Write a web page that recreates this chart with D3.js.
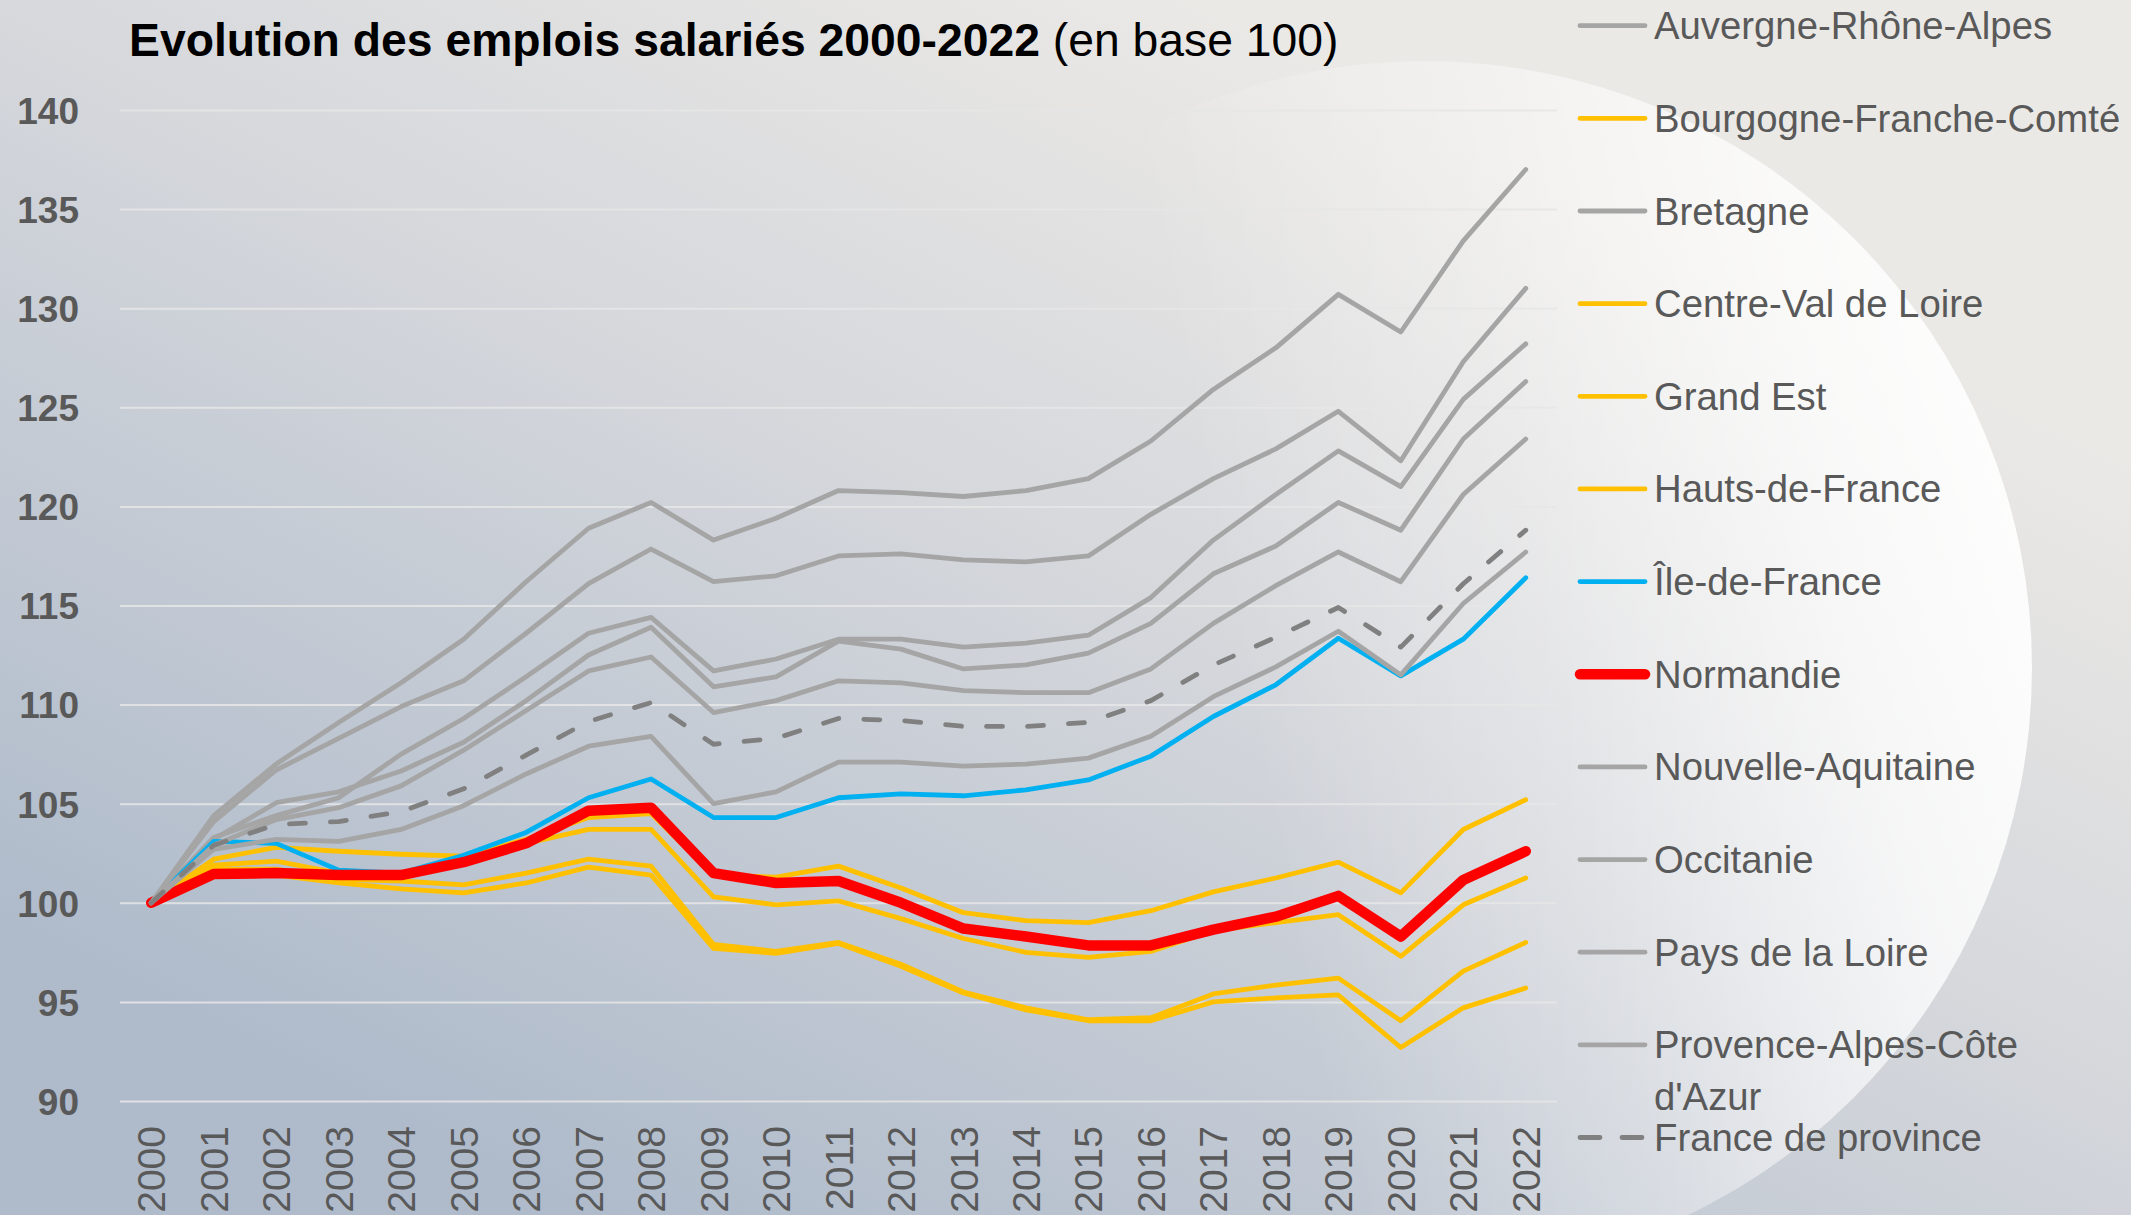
<!DOCTYPE html>
<html>
<head>
<meta charset="utf-8">
<script src="https://cdn.jsdelivr.net/npm/d3@7/dist/d3.min.js"></script>
<style>
  body { margin: 0; background: #d6d8dc; }
  svg { display: block; font-family: "Liberation Sans", Arial, sans-serif; }
</style>
</head>
<body>
<svg id="chart" width="2131" height="1215"></svg>
<script>
// Categories (x axis) and y ticks
const years = ['2000', '2001', '2002', '2003', '2004', '2005', '2006', '2007', '2008', '2009', '2010', '2011',
    '2012', '2013', '2014', '2015', '2016', '2017', '2018', '2019', '2020', '2021', '2022'];
const yTicks = [90, 95, 100, 105, 110, 115, 120, 125, 130, 135, 140];

// Series values, base 100 in 2000
const auvergneRhoneAlpes = [100, 103.3, 104.4, 105.3, 107.5, 109.3, 111.4, 113.6, 114.4, 111.7, 112.3, 113.3,
    113.3, 112.9, 113.1, 113.5, 115.4, 118.3, 120.6, 122.8, 121.0, 125.4, 128.2];
const bourgogneFrancheComte = [100, 101.7, 101.7, 101.2, 101.1, 100.9, 101.5, 102.2, 101.85, 97.9, 97.55, 98.0,
    96.9, 95.5, 94.7, 94.1, 94.2, 95.4, 95.85, 96.2, 94.05, 96.55, 98.0];
const bretagne = [100, 103.2, 105.05, 105.6, 106.65, 108.1, 110.2, 112.5, 113.9, 110.9, 111.4, 113.2,
    112.8, 111.8, 112.0, 112.6, 114.1, 116.6, 118.0, 120.2, 118.8, 123.4, 126.3];
const centreValDeLoire = [100, 101.9, 102.1, 101.5, 101.4, 102.0, 103.0, 103.7, 103.7, 100.3, 99.9, 100.1,
    99.2, 98.2, 97.5, 97.25, 97.55, 98.6, 99.0, 99.4, 97.3, 99.9, 101.25];
const grandEst = [100, 101.5, 101.4, 101.0, 100.7, 100.5, 101.0, 101.8, 101.4, 97.7, 97.45, 97.95,
    96.8, 95.45, 94.6, 94.05, 94.05, 95.0, 95.2, 95.35, 92.7, 94.7, 95.7];
const hautsDeFrance = [100, 102.2, 102.8, 102.6, 102.45, 102.35, 103.2, 104.3, 104.5, 101.4, 101.3, 101.85,
    100.75, 99.5, 99.1, 99.0, 99.6, 100.55, 101.25, 102.05, 100.5, 103.7, 105.2];
const ileDeFrance = [100, 103.1, 103.0, 101.65, 101.5, 102.4, 103.55, 105.3, 106.25, 104.3, 104.3, 105.3,
    105.5, 105.4, 105.7, 106.2, 107.4, 109.4, 111.0, 113.35, 111.45, 113.3, 116.4];
const normandie = [100, 101.45, 101.5, 101.4, 101.4, 102.05, 103.0, 104.65, 104.8, 101.5, 101.0, 101.1,
    100.0, 98.7, 98.3, 97.85, 97.85, 98.65, 99.3, 100.35, 98.3, 101.15, 102.6];
const nouvelleAquitaine = [100, 102.9, 104.2, 104.8, 105.9, 107.7, 109.7, 111.7, 112.4, 109.6, 110.2, 111.2,
    111.1, 110.7, 110.6, 110.6, 111.8, 114.1, 116.0, 117.7, 116.2, 120.6, 123.4];
const occitanie = [100, 104.4, 107.0, 109.1, 111.1, 113.3, 116.2, 118.9, 120.2, 118.3, 119.4, 120.8,
    120.7, 120.5, 120.8, 121.4, 123.3, 125.9, 128.0, 130.7, 128.8, 133.4, 137.0];
const paysDeLaLoire = [100, 104.1, 106.7, 108.3, 109.9, 111.2, 113.6, 116.1, 117.85, 116.2, 116.5, 117.5,
    117.6, 117.3, 117.2, 117.5, 119.6, 121.4, 122.9, 124.8, 122.3, 127.3, 131.0];
const provenceAlpesCoteAzur = [100, 102.7, 103.2, 103.1, 103.7, 104.9, 106.5, 107.9, 108.4, 105.0, 105.6, 107.1,
    107.1, 106.9, 107.0, 107.3, 108.4, 110.4, 111.9, 113.7, 111.5, 115.1, 117.7];
const franceDeProvince = [100, 102.9, 103.95, 104.1, 104.6, 105.75, 107.45, 109.15, 110.1, 108.0, 108.3, 109.3,
    109.2, 108.9, 108.9, 109.1, 110.2, 112.0, 113.4, 114.9, 112.9, 116.1, 118.8];

// legend order = drawing order
const series = [
    { name: 'Auvergne-Rhône-Alpes', values: auvergneRhoneAlpes, kind: 'grey' },
    { name: 'Bourgogne-Franche-Comté', values: bourgogneFrancheComte, kind: 'yellow' },
    { name: 'Bretagne', values: bretagne, kind: 'grey' },
    { name: 'Centre-Val de Loire', values: centreValDeLoire, kind: 'yellow' },
    { name: 'Grand Est', values: grandEst, kind: 'yellow' },
    { name: 'Hauts-de-France', values: hautsDeFrance, kind: 'yellow' },
    { name: 'Île-de-France', values: ileDeFrance, kind: 'blue' },
    { name: 'Normandie', values: normandie, kind: 'red' },
    { name: 'Nouvelle-Aquitaine', values: nouvelleAquitaine, kind: 'grey' },
    { name: 'Occitanie', values: occitanie, kind: 'grey' },
    { name: 'Pays de la Loire', values: paysDeLaLoire, kind: 'grey' },
    { name: "Provence-Alpes-Côte d'Azur", values: provenceAlpesCoteAzur, kind: 'grey' },
    { name: 'France de province', values: franceDeProvince, kind: 'dash' }
];

const styles = {
    grey:   { color: '#a5a5a5', width: 4.8, dash: null },
    yellow: { color: '#ffc000', width: 4.8, dash: null },
    blue:   { color: '#00b0f0', width: 4.8, dash: null },
    red:    { color: '#ff0000', width: 10.5, dash: null },
    dash:   { color: '#808080', width: 4.8, dash: '16,25' }
};

const svg = d3.select('#chart');
const W = 2131, H = 1215;

// background: diagonal gradient + soft light disc on the right
const defs = svg.append('defs');
const bg = defs.append('linearGradient').attr('id', 'bg')
    .attr('gradientUnits', 'userSpaceOnUse')
    .attr('x1', 600).attr('y1', 1215).attr('x2', 1200).attr('y2', 0);
bg.append('stop').attr('offset', 0).attr('stop-color', '#afbbcb');
bg.append('stop').attr('offset', 0.6).attr('stop-color', '#d6d8dc');
bg.append('stop').attr('offset', 1).attr('stop-color', '#ebe9e6');

const disc = defs.append('linearGradient').attr('id', 'disc')
    .attr('x1', 0).attr('y1', 0.6).attr('x2', 1).attr('y2', 0.4);
disc.append('stop').attr('offset', 0).attr('stop-color', '#ffffff').attr('stop-opacity', 0);
disc.append('stop').attr('offset', 0.35).attr('stop-color', '#ffffff').attr('stop-opacity', 0);
disc.append('stop').attr('offset', 0.6).attr('stop-color', '#ffffff').attr('stop-opacity', 0.3);
disc.append('stop').attr('offset', 0.85).attr('stop-color', '#ffffff').attr('stop-opacity', 0.75);
disc.append('stop').attr('offset', 1).attr('stop-color', '#ffffff').attr('stop-opacity', 0.92);

svg.append('rect').attr('width', W).attr('height', H).attr('fill', 'url(#bg)');
svg.append('circle').attr('cx', 1425).attr('cy', 668).attr('r', 607).attr('fill', 'url(#disc)');

// scales
const plot = { left: 120, right: 1557, top: 110, bottom: 1101 };
const x = d3.scalePoint().domain(years).range([plot.left, plot.right]).padding(0.5);
const y = d3.scaleLinear().domain([90, 140]).range([plot.bottom, plot.top]);

// gridlines + y labels
const yAxis = svg.append('g')
    .call(d3.axisLeft(y).tickValues(yTicks).tickSize(-(plot.right - plot.left)).tickPadding(41))
    .attr('transform', `translate(${plot.left},0)`);
yAxis.select('.domain').remove();
yAxis.selectAll('.tick line').attr('stroke', '#e6e6e6').attr('stroke-width', 2).attr('opacity', 0.85);
yAxis.selectAll('.tick text')
    .attr('fill', '#595959')
    .attr('font-size', 37)
    .attr('font-weight', 'bold')
    .attr('font-family', '"Liberation Sans", Arial, sans-serif')
    .attr('dy', '0.36em');

// x labels, rotated
svg.append('g').selectAll('text')
    .data(years)
    .enter().append('text')
    .attr('transform', d => `translate(${x(d)},1126) rotate(-90)`)
    .attr('text-anchor', 'end')
    .attr('dy', '0.36em')
    .attr('fill', '#595959')
    .attr('font-size', 39)
    .text(d => d);

// lines
const line = d3.line()
    .x((d, i) => x(years[i]))
    .y(d => y(d));

svg.append('g').selectAll('path')
    .data(series)
    .enter().append('path')
    .attr('d', d => line(d.values))
    .attr('fill', 'none')
    .attr('stroke', d => styles[d.kind].color)
    .attr('stroke-width', d => styles[d.kind].width)
    .attr('stroke-dasharray', d => styles[d.kind].dash)
    .attr('stroke-linecap', 'round')
    .attr('stroke-linejoin', 'round');

// title
const title = svg.append('text')
    .attr('x', 129).attr('y', 56)
    .attr('font-size', 46.3)
    .attr('fill', '#000');
title.append('tspan').attr('font-weight', 'bold').text('Evolution des emplois salariés 2000-2022');
title.append('tspan').text(' (en base 100)');

// legend
const legendTop = 25.7, legendStep = 92.65;
const legend = svg.append('g');
const items = legend.selectAll('g')
    .data(series)
    .enter().append('g')
    .attr('transform', (d, i) => `translate(0,${legendTop + i * legendStep})`);

items.append('line')
    .attr('x1', 1580).attr('x2', 1645)
    .attr('stroke', d => styles[d.kind].color)
    .attr('stroke-width', d => styles[d.kind].width)
    .attr('stroke-dasharray', d => d.kind === 'dash' ? '20,22' : null)
    .attr('stroke-linecap', 'round');

items.append('text')
    .attr('x', 1654)
    .attr('y', 13.5)
    .attr('font-size', 38.3)
    .attr('fill', '#595959')
    .each(function (d) {
        // wrap long names like Excel does
        const t = d3.select(this);
        const words = d.name.split(' ');
        let lineWords = [];
        let tspan = t.append('tspan').attr('x', 1654).attr('dy', 0);
        words.forEach(w => {
            lineWords.push(w);
            tspan.text(lineWords.join(' '));
            if (tspan.node().getComputedTextLength() > 471 && lineWords.length > 1) {
                lineWords.pop();
                tspan.text(lineWords.join(' '));
                lineWords = [w];
                tspan = t.append('tspan').attr('x', 1654).attr('dy', 51.5).text(w);
            }
        });
    });
</script>
</body>
</html>
